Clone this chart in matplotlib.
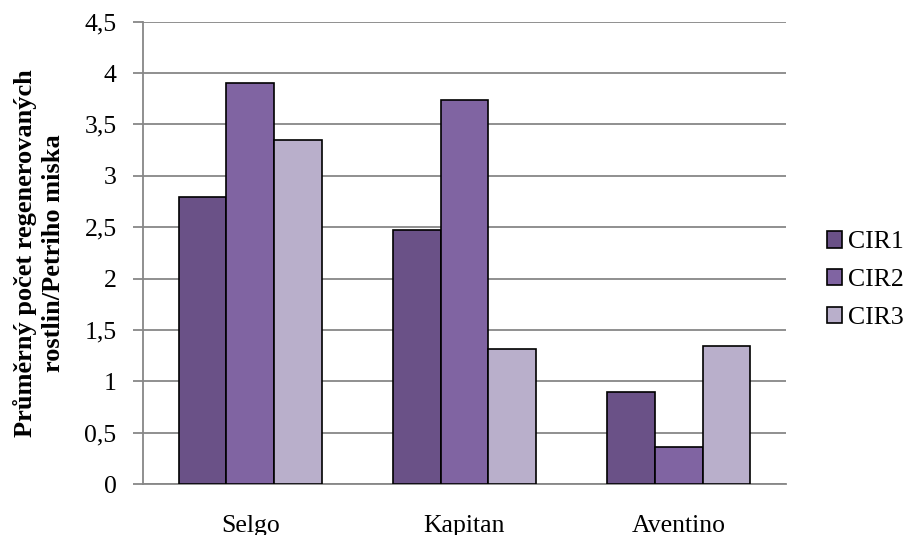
import numpy as np
import matplotlib
matplotlib.use('Agg')
import matplotlib.pyplot as plt

plt.rcParams['font.family'] = ['Liberation Serif', 'DejaVu Serif']

varieties = ['Selgo', 'Kapitan', 'Aventino']
series_names = ['CIR1', 'CIR2', 'CIR3']
cir1 = [2.79, 2.47, 0.90]
cir2 = [3.90, 3.74, 0.36]
cir3 = [3.35, 1.31, 1.34]
yticks = [0, 0.5, 1, 1.5, 2, 2.5, 3, 3.5, 4, 4.5]

colors = ['#6a5187', '#8064a2', '#b9afcb']
grid_color = '#878787'
fs = 18.5

fig = plt.figure(figsize=(9.05, 5.35), dpi=100)
ax = fig.add_axes([0.158, 0.0953, 0.7105, 0.8641])

x = np.arange(len(varieties))
width = 0.222
for i, (vals, name) in enumerate(zip([cir1, cir2, cir3], series_names)):
    ax.bar(x + (i - 1) * width, vals, width, color=colors[i], edgecolor='black',
           linewidth=1.2, label=name, zorder=3)

ax.set_xlim(-0.5, 2.5)
ax.set_ylim(0, 4.5)
ax.set_yticks(yticks)
ax.set_yticklabels([f'{t:g}'.replace('.', ',') for t in yticks], fontsize=fs)
ax.set_xticks(x)
ax.set_xticklabels(varieties, fontsize=fs)
ax.tick_params(axis='x', length=0, pad=22)
ax.tick_params(axis='y', length=7, width=1.3, color=grid_color, pad=12)

ax.yaxis.grid(True, color=grid_color, linewidth=1.3, zorder=0)
ax.set_axisbelow(True)
for side in ['top', 'right']:
    ax.spines[side].set_visible(False)
for side in ['left', 'bottom']:
    ax.spines[side].set_color(grid_color)
    ax.spines[side].set_linewidth(1.3)

ax.set_ylabel('Průměrný počet regenerovaných\nrostlin/Petriho miska', fontsize=19,
              fontweight='bold', labelpad=14, linespacing=1.3)

fig.legend(*ax.get_legend_handles_labels(), loc='center left',
           bbox_to_anchor=(827 / 905, 1 - 280 / 535), frameon=False, fontsize=fs,
           borderpad=0, borderaxespad=0, handlelength=0.6, handleheight=0.6,
           handletextpad=0.22, labelspacing=0.6)

fig.savefig('out.png', dpi=100)
